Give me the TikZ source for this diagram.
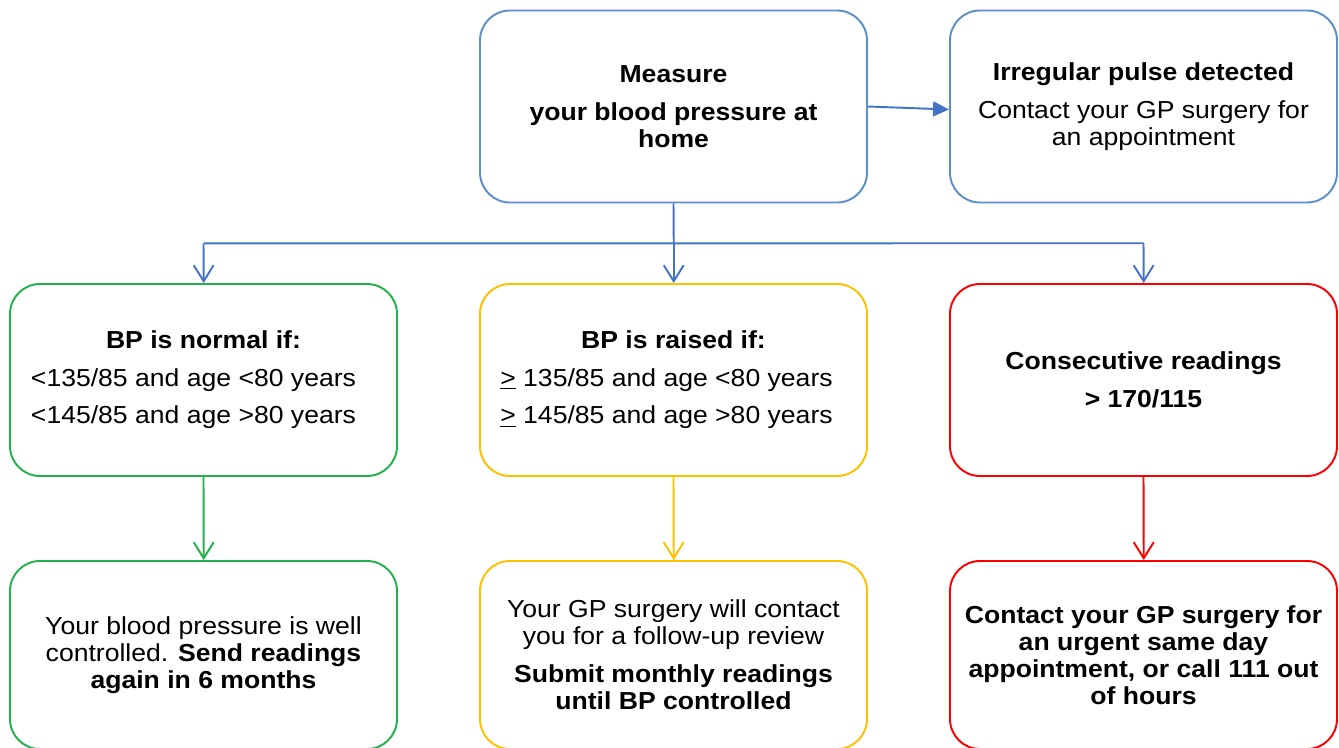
\documentclass[tikz,border=0pt]{standalone}
\usepackage{fontspec}
\setmainfont{Liberation Sans}[FakeStretch=1.08]
\usetikzlibrary{positioning,calc,arrows.meta,backgrounds}

\definecolor{boxblue}{RGB}{91,143,201}
\definecolor{lineblue}{RGB}{68,114,196}
\definecolor{okgreen}{RGB}{34,177,76}
\definecolor{amber}{RGB}{255,192,0}
\definecolor{alertred}{RGB}{255,0,0}

\tikzset{
  card/.style={draw=#1, text=black, line width=1.1pt, rounded corners=0.6cm,
    minimum width=7.74cm, minimum height=3.84cm, align=center,
    inner sep=2pt, font=\fontsize{14}{15.4}\selectfont},
  wire/.style={draw=#1, line width=1.1pt},
  link/.style={draw=#1, line width=1.1pt,
    -{Straight Barb[length=0.32cm,width=0.4cm]}},
}

\begin{document}
\begin{tikzpicture}
    \useasboundingbox (0,0) rectangle (26.78,14.94);

    % Top row
    \node[card=boxblue] (measure) at (13.47,12.81)
      {\textbf{Measure}\\[6pt]
       \textbf{your blood pressure at}\\
       \textbf{home}};
    \node[card=boxblue] (pulse) at (22.87,12.81)
      {\textbf{Irregular pulse detected}\\[6pt]
       Contact your GP surgery for\\
       an appointment};

    % Middle row
    \node[card=okgreen] (normal) at (4.07,7.34)
      {\textbf{BP is normal if:}\\[6pt]
       \hspace*{-0.4cm}<135/85 and age <80 years\\[6pt]
       \hspace*{-0.4cm}<145/85 and age >80 years};
    \node[card=amber] (raised) at (13.47,7.34)
      {\textbf{BP is raised if:}\\[6pt]
       \hspace*{-0.28cm}\underline{>} 135/85 and age <80 years\\[6pt]
       \hspace*{-0.28cm}\underline{>} 145/85 and age >80 years};
    \node[card=alertred] (high) at (22.87,7.34)
      {\textbf{Consecutive readings}\\[6pt]
       \textbf{> 170/115}};

    % Bottom row
    \node[card=okgreen, minimum height=3.76cm] (wellctl) at (4.07,1.84)
      {Your blood pressure is well\\
       controlled. \textbf{Send readings}\\
       \textbf{again in 6 months}};
    \node[card=amber, minimum height=3.76cm] (review) at (13.47,1.84)
      {Your GP surgery will contact\\
       you for a follow-up review\\[6pt]
       \textbf{Submit monthly readings}\\
       \textbf{until BP controlled}};
    \node[card=alertred, minimum height=3.76cm] (urgent) at (22.87,1.84)
      {\textbf{Contact your GP surgery for}\\
       \textbf{an urgent same day}\\
       \textbf{appointment, or call 111 out}\\
       \textbf{of hours}};

    \begin{scope}[on background layer]
    % Branches
    \coordinate (hub) at ($(measure.south)+(0.005,-0.8)$);
    \coordinate (busl) at (normal.north |- hub);
    \coordinate (busr) at ($(high.north |- hub)+(0,0.005)$);
    \draw[wire=lineblue] (measure.south) -- (hub);
    \draw[wire=lineblue] (busl) -- (busr);
    \draw[link=lineblue] (busl) -- ($(normal.north)+(0.005,0)$);
    \draw[link=lineblue] (hub) -- ($(raised.north)+(0.005,0)$);
    \draw[link=lineblue] (busr) -- ($(high.north)+(0.005,0)$);
    \draw[wire=lineblue, fill=lineblue,
      -{Triangle[length=0.32cm,width=0.3cm]}] (measure.east) -- ($(pulse.west)+(0,-0.06)$);

    % Outcomes
    \draw[link=okgreen] (normal.south) -- ($(wellctl.north)+(0.005,0)$);
    \draw[link=amber] (raised.south) -- ($(review.north)+(0.005,0)$);
    \draw[link=alertred] (high.south) -- ($(urgent.north)+(0.005,0)$);
    \end{scope}
\end{tikzpicture}
\end{document}
